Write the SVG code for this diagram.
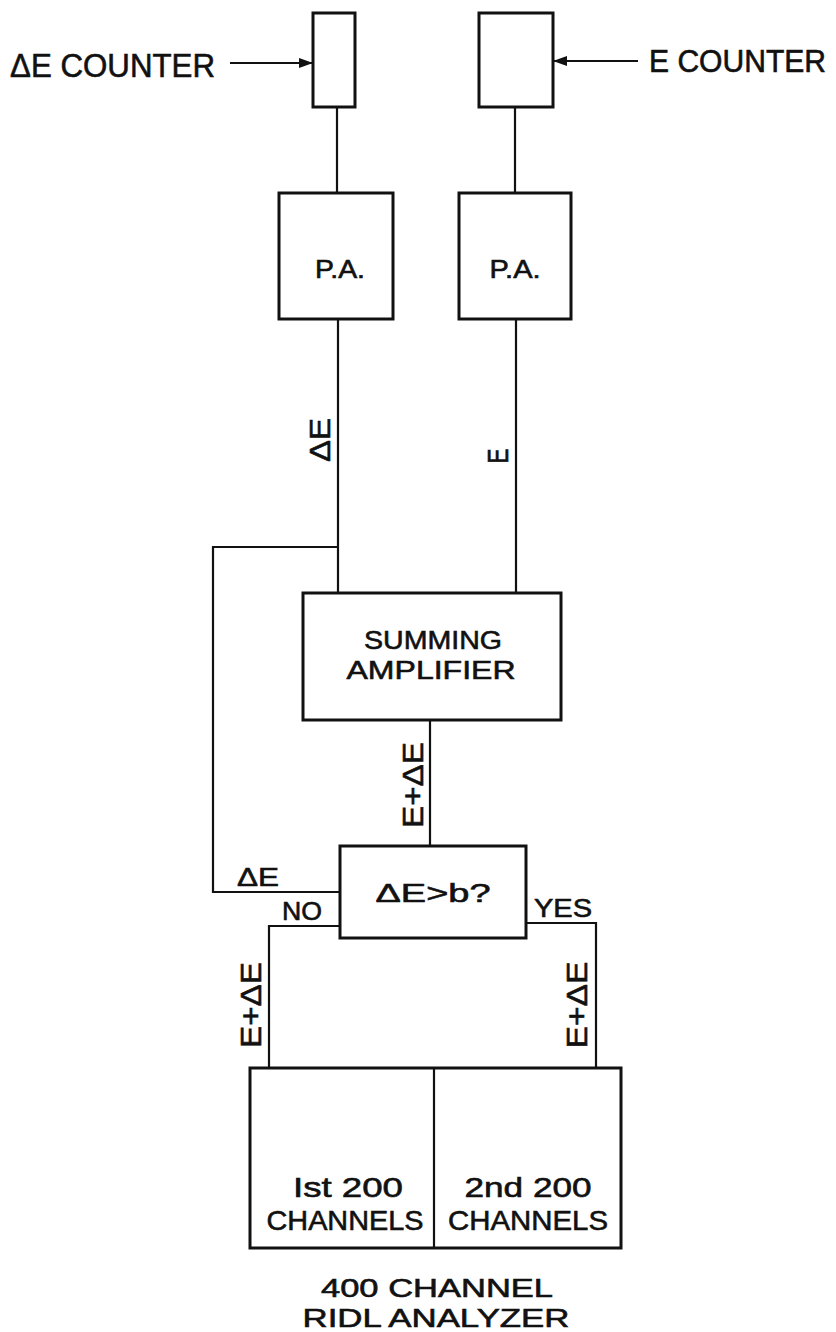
<svg xmlns="http://www.w3.org/2000/svg" width="836" height="1332" viewBox="0 0 836 1332">
<defs>
<style>
.box{fill:none;stroke:#111;stroke-width:3}
.ln{fill:none;stroke:#111;stroke-width:2.2}
text{font-family:"Liberation Sans","DejaVu Sans",Arial,sans-serif;fill:#111;stroke:#111;stroke-width:0.6}
.t33{font-size:33px}
.t31{font-size:31px}
.t29{font-size:29px}
.t26{font-size:26px}
.t25{font-size:25px}
.t28{font-size:28px}
.mid{text-anchor:middle}
</style>
<marker id="ah" viewBox="0 0 14 10" refX="13" refY="5" markerWidth="14" markerHeight="10" markerUnits="userSpaceOnUse" orient="auto">
<path d="M0,0 L14,5 L0,10 Z" fill="#111"/>
</marker>
</defs>
<rect width="836" height="1332" fill="#fff"/>
<g id="connectors">
<path class="ln" d="M337,107 V193"/>
<path class="ln" d="M515,107 V193"/>
<path class="ln" d="M338,319 V593"/>
<path class="ln" d="M516,319 V593"/>
<path class="ln" d="M430,720 V846"/>
<path class="ln" d="M338,547 H213 V892 H340"/>
<path class="ln" d="M340,926 H269 V1068"/>
<path class="ln" d="M526,923 H596 V1068"/>
<path class="ln" d="M230,63 H312" marker-end="url(#ah)"/>
<path class="ln" d="M638,61 H554" marker-end="url(#ah)"/>
<text class="t29" transform="translate(330,440) rotate(-90)" text-anchor="middle" textLength="44" lengthAdjust="spacingAndGlyphs">ΔE</text>
<text class="t29" transform="translate(508,456) rotate(-90)" text-anchor="middle" textLength="15" lengthAdjust="spacingAndGlyphs">E</text>
<text class="t29" transform="translate(423,785) rotate(-90)" text-anchor="middle" textLength="86" lengthAdjust="spacingAndGlyphs">E+ΔE</text>
<text class="t29" transform="translate(261,1005) rotate(-90)" text-anchor="middle" textLength="86" lengthAdjust="spacingAndGlyphs">E+ΔE</text>
<text class="t29" transform="translate(587,1005) rotate(-90)" text-anchor="middle" textLength="87" lengthAdjust="spacingAndGlyphs">E+ΔE</text>
<text class="t25" x="237" y="886" textLength="42" lengthAdjust="spacingAndGlyphs">ΔE</text>
<text class="t25" x="282" y="920" textLength="40" lengthAdjust="spacingAndGlyphs">NO</text>
<text class="t25" x="534" y="917" textLength="58" lengthAdjust="spacingAndGlyphs">YES</text>
</g>
<g id="de-counter">
<rect class="box" x="313" y="13" width="42" height="94"/>
<text class="t33" x="10" y="77" textLength="205" lengthAdjust="spacingAndGlyphs">ΔE COUNTER</text>
</g>
<g id="e-counter">
<rect class="box" x="479" y="13" width="74" height="94"/>
<text class="t31" x="649" y="72" textLength="177" lengthAdjust="spacingAndGlyphs">E COUNTER</text>
</g>
<g id="pa-left">
<rect class="box" x="279" y="193" width="114" height="126"/>
<text class="t25 mid" x="340" y="278" textLength="50" lengthAdjust="spacingAndGlyphs">P.A.</text>
</g>
<g id="pa-right">
<rect class="box" x="459" y="193" width="112" height="126"/>
<text class="t25 mid" x="515" y="278" textLength="51" lengthAdjust="spacingAndGlyphs">P.A.</text>
</g>
<g id="summing-amplifier">
<rect class="box" x="303" y="593" width="258" height="127"/>
<text class="t26 mid" x="433" y="649" textLength="138" lengthAdjust="spacingAndGlyphs">SUMMING</text>
<text class="t26 mid" x="431" y="679" textLength="169" lengthAdjust="spacingAndGlyphs">AMPLIFIER</text>
</g>
<g id="decision">
<rect class="box" x="340" y="846" width="186" height="92"/>
<text class="t25 mid" x="433" y="902" textLength="115" lengthAdjust="spacingAndGlyphs">ΔE&gt;b?</text>
</g>
<g id="analyzer">
<rect class="box" x="250" y="1068" width="371" height="180"/>
<path class="ln" d="M434,1068 V1248"/>
<text class="t28 mid" x="348" y="1197" textLength="110" lengthAdjust="spacingAndGlyphs">Ist 200</text>
<text class="t28 mid" x="345" y="1230" textLength="157" lengthAdjust="spacingAndGlyphs">CHANNELS</text>
<text class="t28 mid" x="528" y="1197" textLength="127" lengthAdjust="spacingAndGlyphs">2nd 200</text>
<text class="t28 mid" x="528" y="1230" textLength="160" lengthAdjust="spacingAndGlyphs">CHANNELS</text>
<text class="t25 mid" x="437" y="1297" textLength="232" lengthAdjust="spacingAndGlyphs">400 CHANNEL</text>
<text class="t25 mid" x="436" y="1327" textLength="267" lengthAdjust="spacingAndGlyphs">RIDL ANALYZER</text>
</g>
</svg>
